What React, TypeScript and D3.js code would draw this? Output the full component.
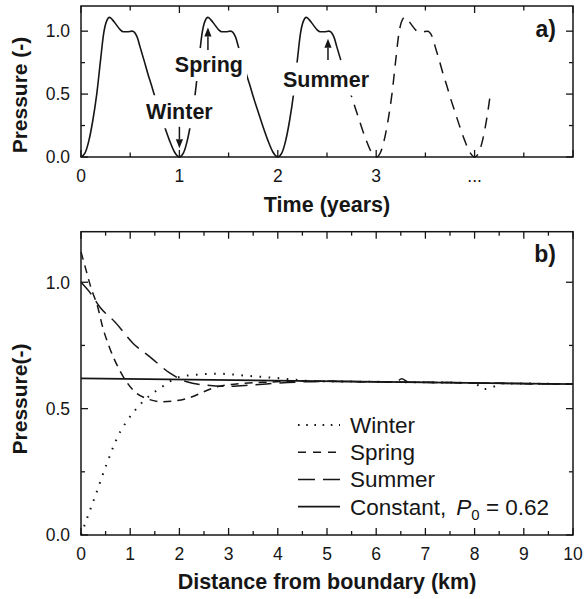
import React, { useLayoutEffect, useRef, useState } from "react";
import * as d3 from "d3";

const W = 584;
const H = 599;
const FONT = "'Liberation Sans', Arial, Helvetica, sans-serif";
const INK = "#161616";

// ---- Panel a: boundary pressure over the annual cycle ----
// one year of boundary pressure, phase within the year -> pressure
const CYCLE_PHASE = [0, 0.04, 0.08, 0.12, 0.16, 0.2, 0.23, 0.26, 0.29, 0.32, 0.36, 0.4, 0.43, 0.47, 0.52, 0.57, 0.6, 0.64, 0.68, 0.72, 0.75, 0.8, 0.85, 0.9, 0.95, 1.0];
const CYCLE_PRESSURE = [0, 0.03, 0.13, 0.29, 0.5, 0.78, 0.98, 1.08, 1.11, 1.09, 1.05, 1.01, 0.995, 0.995, 1.0, 0.955, 0.875, 0.77, 0.66, 0.56, 0.48, 0.36, 0.24, 0.13, 0.04, 0];
const YEARS = [0, 1, 2, 3, 4];
const SOLID_END = 2.66;
const DASHED_START = 2.72;
const DASHED_END = 4.17;
const TIME_TICKS = [0, 1, 2, 3, 4];
const TIME_TICK_LABELS = ["0", "1", "2", "3", "..."];
const PRESSURE_TICKS_A = [0, 0.5, 1.0];

// ---- Panel b: pressure profiles away from the boundary ----
const WINTER_X = [0, 0.13, 0.3, 0.52, 0.8, 0.93, 1.27, 1.6, 2.0, 2.4, 2.8, 3.37, 4.05, 4.7, 5.5, 6.5, 7.5, 8.0, 8.17, 8.37, 8.55, 9.2, 10];
const WINTER_P = [0, 0.07, 0.16, 0.28, 0.41, 0.45, 0.53, 0.58, 0.625, 0.635, 0.638, 0.63, 0.62, 0.609, 0.607, 0.605, 0.603, 0.601, 0.577, 0.585, 0.6, 0.599, 0.597];

const SPRING_X = [0, 0.1, 0.2, 0.35, 0.43, 0.575, 0.79, 1.06, 1.33, 1.67, 2.15, 2.76, 3.3, 3.8, 4.5, 5.5, 6.5, 7.5, 8.5, 10];
const SPRING_P = [1.12, 1.05, 0.98, 0.895, 0.83, 0.744, 0.65, 0.573, 0.54, 0.527, 0.54, 0.586, 0.6, 0.605, 0.609, 0.607, 0.605, 0.603, 0.6, 0.597];

const SUMMER_X = [0, 0.18, 0.39, 0.69, 1.06, 1.4, 1.81, 2.15, 2.55, 3.0, 3.5, 4.2, 5.0, 6.0, 6.4, 6.52, 6.65, 7.5, 8.5, 10];
const SUMMER_P = [1.0, 0.96, 0.9, 0.843, 0.758, 0.705, 0.64, 0.606, 0.593, 0.588, 0.594, 0.603, 0.608, 0.606, 0.605, 0.618, 0.605, 0.603, 0.6, 0.597];

const CONSTANT_X = [0, 10];
const CONSTANT_P = [0.62, 0.597];

const DIST_TICKS = [0, 1, 2, 3, 4, 5, 6, 7, 8, 9, 10];
const PRESSURE_TICKS_B = [0, 0.5, 1.0];

const SEASONS = ["Winter", "Spring", "Summer"];

// ---- geometry ----
const LEFT = 81;
const RIGHT = 573;
const xTime = d3.scaleLinear().domain([0, 5]).range([LEFT, RIGHT]);
const yA = d3.scaleLinear().domain([0, 1.2]).range([157, 6]);
const xDist = d3.scaleLinear().domain([0, 10]).range([LEFT, RIGHT]);
const yB = d3.scaleLinear().domain([0, 1.2]).range([535, 231.7]);

type Pt = [number, number];

function buildTimeSeries(): Pt[] {
  const pts: Pt[] = [];
  YEARS.forEach((yr, i) => {
    CYCLE_PHASE.forEach((u, j) => {
      if (i > 0 && j === 0) return;
      pts.push([yr + u, CYCLE_PRESSURE[j]]);
    });
  });
  return pts;
}

const zipPts = (xs: number[], ys: number[]): Pt[] => xs.map((x, i) => [x, ys[i]]);

function Label({ x, y, text, arrowX, arrowFrom, arrowTo }: { x: number; y: number; text: string; arrowX: number; arrowFrom: number; arrowTo: number }) {
  const ref = useRef<SVGTextElement>(null);
  const [bw, setBw] = useState(0);
  useLayoutEffect(() => {
    if (ref.current) setBw(ref.current.getBBox().width);
  }, []);
  const dir = arrowTo > arrowFrom ? 1 : -1;
  const headLen = 9;
  const headHalf = 3.6;
  const shaftEnd = arrowTo - dir * headLen;
  return (
    <g>
      <rect x={x - bw / 2 - 4} y={y - 24} width={bw + 8} height={33} fill="#fff" />
      <text ref={ref} x={x} y={y} textAnchor="middle" fontFamily={FONT} fontWeight="bold" fontSize={21.5} fill={INK}>
        {text}
      </text>
      <line x1={arrowX} x2={arrowX} y1={arrowFrom} y2={shaftEnd} stroke={INK} strokeWidth={1.5} />
      <path d={`M${arrowX - headHalf},${shaftEnd}L${arrowX + headHalf},${shaftEnd}L${arrowX},${arrowTo}Z`} fill={INK} />
    </g>
  );
}

export default function App() {
  const series = buildTimeSeries();
  const lineA = d3
    .line<Pt>()
    .x((d) => xTime(d[0]))
    .y((d) => yA(d[1]))
    .curve(d3.curveMonotoneX);
  const solidPts = series.filter((d) => d[0] <= SOLID_END + 1e-9);
  const dashedPts = series.filter((d) => d[0] >= DASHED_START - 1e-9 && d[0] <= DASHED_END);

  const lineB = d3
    .line<Pt>()
    .x((d) => xDist(d[0]))
    .y((d) => yB(d[1]))
    .curve(d3.curveMonotoneX);

  const profiles = [
    { name: "Winter", pts: zipPts(WINTER_X, WINTER_P), dash: "1.6,7.5", width: 2 },
    { name: "Spring", pts: zipPts(SPRING_X, SPRING_P), dash: "8,6", width: 1.5 },
    { name: "Summer", pts: zipPts(SUMMER_X, SUMMER_P), dash: "16,8", width: 1.5 },
    { name: "Constant", pts: zipPts(CONSTANT_X, CONSTANT_P), dash: "none", width: 1.7 },
  ];

  const legendDash: Record<string, string> = {
    Winter: "1.6,6.6",
    Spring: "8,7",
    Summer: "17,8",
    Constant: "none",
  };

  const halfStepsA = d3.range(0, 5.001, 0.5);
  const quarterStepsA = d3.range(0, 1.2001, 0.25);
  const halfStepsB = d3.range(0, 10.001, 0.5);
  const quarterStepsB = d3.range(0, 1.2001, 0.25);
  const isMajor = (v: number, step: number) => Math.abs(v / step - Math.round(v / step)) < 1e-6;

  // annotation anchors (data coordinates of panel a)
  const labelAnchors = [
    { t: 1.0, p: 0.3, arrowT: 1.0, from: 0.24, to: 0.07 },
    { t: 1.3, p: 0.675, arrowT: 1.29, from: 0.85, to: 1.03 },
    { t: 2.49, p: 0.56, arrowT: 2.51, from: 0.77, to: 0.94 },
  ];

  const legendX0 = 298;
  const legendX1 = 340;
  const legendTop = 433;
  const legendStep = 27.2;

  return (
    <svg width={W} height={H} viewBox={`0 0 ${W} ${H}`} style={{ position: "absolute", left: 0, top: 0, background: "#fff" }}>
      <rect width={W} height={H} fill="#fff" />

      {/* ---------- panel a ---------- */}
      <g>
        <path d={lineA(solidPts) || ""} fill="none" stroke={INK} strokeWidth={1.6} />
        <path d={lineA(dashedPts) || ""} fill="none" stroke={INK} strokeWidth={1.5} strokeDasharray="11,8" />

        {labelAnchors.map((a, i) => (
          <Label
            key={SEASONS[i]}
            x={xTime(a.t)}
            y={yA(a.p)}
            text={SEASONS[i]}
            arrowX={xTime(a.arrowT)}
            arrowFrom={yA(a.from)}
            arrowTo={yA(a.to)}
          />
        ))}

        <rect x={LEFT} y={yA(1.2)} width={RIGHT - LEFT} height={yA(0) - yA(1.2)} fill="none" stroke={INK} strokeWidth={1.5} />
        {halfStepsA.map((v) => {
          const len = isMajor(v, 1) ? 7 : 4.5;
          const x = xTime(v);
          return (
            <g key={"ta" + v}>
              <line x1={x} x2={x} y1={yA(0)} y2={yA(0) - len} stroke={INK} strokeWidth={1.3} />
              <line x1={x} x2={x} y1={yA(1.2)} y2={yA(1.2) + len} stroke={INK} strokeWidth={1.3} />
            </g>
          );
        })}
        {quarterStepsA.map((v) => {
          const len = isMajor(v, 0.5) ? 7 : 4;
          const y = yA(v);
          return (
            <g key={"pa" + v}>
              <line x1={LEFT} x2={LEFT + len} y1={y} y2={y} stroke={INK} strokeWidth={1.3} />
              <line x1={RIGHT} x2={RIGHT - len} y1={y} y2={y} stroke={INK} strokeWidth={1.3} />
            </g>
          );
        })}
        {TIME_TICKS.map((v, i) => (
          <text key={"tl" + v} x={xTime(v)} y={182} textAnchor="middle" fontFamily={FONT} fontSize={17.5} fill={INK}>
            {TIME_TICK_LABELS[i]}
          </text>
        ))}
        {PRESSURE_TICKS_A.map((v) => (
          <text key={"pl" + v} x={70} y={yA(v)} dy="0.36em" textAnchor="end" fontFamily={FONT} fontSize={17.5} fill={INK}>
            {v.toFixed(1)}
          </text>
        ))}
        <text x={(LEFT + RIGHT) / 2} y={212} textAnchor="middle" fontFamily={FONT} fontWeight="bold" fontSize={21.5} fill={INK}>
          Time (years)
        </text>
        <text transform="translate(27,95) rotate(-90)" textAnchor="middle" fontFamily={FONT} fontWeight="bold" fontSize={21} fill={INK}>
          Pressure (-)
        </text>
        <text x={556} y={37} textAnchor="end" fontFamily={FONT} fontWeight="bold" fontSize={23} fill={INK}>
          a)
        </text>
      </g>

      {/* ---------- panel b ---------- */}
      <g>
        {profiles.map((p) => (
          <path
            key={p.name}
            d={lineB(p.pts) || ""}
            fill="none"
            stroke={INK}
            strokeWidth={p.width}
            strokeDasharray={p.dash}
          />
        ))}

        <rect x={LEFT} y={yB(1.2)} width={RIGHT - LEFT} height={yB(0) - yB(1.2)} fill="none" stroke={INK} strokeWidth={1.5} />
        {halfStepsB.map((v) => {
          const len = isMajor(v, 1) ? 7 : 4;
          const x = xDist(v);
          return (
            <g key={"tb" + v}>
              <line x1={x} x2={x} y1={yB(0)} y2={yB(0) - len} stroke={INK} strokeWidth={1.3} />
              <line x1={x} x2={x} y1={yB(1.2)} y2={yB(1.2) + len} stroke={INK} strokeWidth={1.3} />
            </g>
          );
        })}
        {quarterStepsB.map((v) => {
          const len = isMajor(v, 0.5) ? 7 : 4;
          const y = yB(v);
          return (
            <g key={"pb" + v}>
              <line x1={LEFT} x2={LEFT + len} y1={y} y2={y} stroke={INK} strokeWidth={1.3} />
              <line x1={RIGHT} x2={RIGHT - len} y1={y} y2={y} stroke={INK} strokeWidth={1.3} />
            </g>
          );
        })}
        {DIST_TICKS.map((v) => (
          <text key={"dl" + v} x={xDist(v)} y={560} textAnchor="middle" fontFamily={FONT} fontSize={17.5} fill={INK}>
            {v}
          </text>
        ))}
        {PRESSURE_TICKS_B.map((v) => (
          <text key={"plb" + v} x={70} y={yB(v)} dy="0.36em" textAnchor="end" fontFamily={FONT} fontSize={17.5} fill={INK}>
            {v.toFixed(1)}
          </text>
        ))}
        <text x={(LEFT + RIGHT) / 2} y={589} textAnchor="middle" fontFamily={FONT} fontWeight="bold" fontSize={21.5} fill={INK}>
          Distance from boundary (km)
        </text>
        <text transform="translate(27,399) rotate(-90)" textAnchor="middle" fontFamily={FONT} fontWeight="bold" fontSize={21} fill={INK}>
          Pressure(-)
        </text>
        <text x={556} y={262} textAnchor="end" fontFamily={FONT} fontWeight="bold" fontSize={23} fill={INK}>
          b)
        </text>

        {/* legend */}
        {profiles.map((p, i) => {
          const base = legendTop + i * legendStep;
          return (
            <g key={"lg" + p.name}>
              <line
                x1={legendX0}
                x2={legendX1}
                y1={base - 8}
                y2={base - 8}
                stroke={INK}
                strokeWidth={p.width}
                strokeDasharray={legendDash[p.name]}
              />
              <text x={350} y={base} fontFamily={FONT} fontSize={22.5} fill={INK}>
                {p.name === "Constant" ? (
                  <>
                    <tspan>Constant,</tspan>
                    <tspan dx={10} fontStyle="italic">P</tspan>
                    <tspan fontSize={15} dy={5}>0</tspan>
                    <tspan dy={-5}> = 0.62</tspan>
                  </>
                ) : (
                  p.name
                )}
              </text>
            </g>
          );
        })}
      </g>
    </svg>
  );
}
